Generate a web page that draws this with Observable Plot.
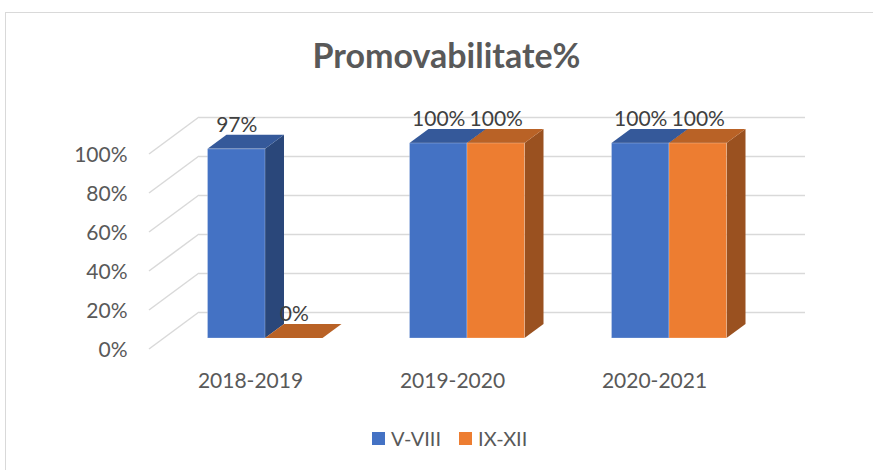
<!DOCTYPE html>
<html><head><meta charset="utf-8">
<script src="https://cdn.jsdelivr.net/npm/d3@7"></script>
<script src="https://cdn.jsdelivr.net/npm/@observablehq/plot@0.6"></script>
<style>
body{margin:0;background:#fff;font-family:Lato,sans-serif;}
#wrap{position:relative;width:873px;height:470px;overflow:hidden;background:#fff;}
#frame{position:absolute;left:5px;top:12px;width:900px;height:500px;border:1px solid #d9d9d9;box-sizing:border-box;}
#chart{position:absolute;left:0;top:0;}
#title{position:absolute;left:10px;width:873px;top:38px;text-align:center;font:bold 34px/34px Lato,sans-serif;color:#595959;white-space:nowrap;}
#legend{position:absolute;left:372px;top:428px;display:flex;align-items:center;font:20px/20px Lato,sans-serif;color:#595959;}
.sw{width:13px;height:13px;display:inline-block;margin-right:6px;}
.item{display:flex;align-items:center;margin-right:18px;}
</style></head>
<body>
<div id="wrap">
  <div id="frame"></div>
  <div id="chart"></div>
  <div id="title">Promovabilitate%</div>
  <div id="legend"></div>
</div>
<script>
// ---- data ----
const categories = ["2018-2019", "2019-2020", "2020-2021"];
const seriesNames = ["V-VIII", "IX-XII"];
const valuesVVIII = [0.97, 1.00, 1.00];
const valuesIXXII = [0.00, 1.00, 1.00];
const yTicks = [0, 0.2, 0.4, 0.6, 0.8, 1.0];

// ---- styles ----
const front = ["#4472C4", "#ED7D31"];
const topC = ["#35599A", "#B96226"];
const sideC = ["#2A477A", "#9A5120"];
const grid = "#d9d9d9";
const BAR = 0.2847;           // bar width in category units
const BDX = 19, BDY = -14;    // bar depth in px
const FDX = -15, FDY = 11;    // front floor plane offset
const WDX = 35, WDY = -26;    // back wall offset

const rows = [];
categories.forEach((c, i) => {
  [valuesVVIII, valuesIXXII].forEach((vals, s) => {
    rows.push({cat: c, i, s, series: seriesNames[s], value: vals[i]});
  });
});

function diagonals(index, scales) {
  const {x, y} = scales;
  const g = d3.create("svg:g").attr("stroke", grid).attr("stroke-width", 1.5).attr("fill", "none");
  const x0 = x(-0.5);
  for (const v of yTicks) {
    g.append("line")
      .attr("x1", x0 + FDX).attr("y1", y(v) + FDY)
      .attr("x2", x0 + WDX).attr("y2", y(v) + WDY);
  }
  return g.node();
}

function bars3d(index, scales) {
  const {x, y} = scales;
  const g = d3.create("svg:g");
  for (const d of rows) {
    const x1 = x(d.i + (d.s - 1) * BAR), x2 = x(d.i + d.s * BAR);
    const y0 = y(0), y1 = y(d.value);
    g.append("polygon")
      .attr("points", [[x2, y1], [x2 + BDX, y1 + BDY], [x2 + BDX, y0 + BDY], [x2, y0]].join(" "))
      .attr("fill", sideC[d.s]);
    g.append("polygon")
      .attr("points", [[x1, y1], [x1 + BDX, y1 + BDY], [x2 + BDX, y1 + BDY], [x2, y1]].join(" "))
      .attr("fill", topC[d.s]);
    if (y0 - y1 > 0) {
      g.append("rect")
        .attr("x", x1).attr("y", y1).attr("width", x2 - x1).attr("height", y0 - y1)
        .attr("fill", front[d.s]).attr("stroke", "#ffffff").attr("stroke-opacity", 0.25).attr("stroke-width", 1);
    }
  }
  return g.node();
}

const chart = Plot.plot({
  width: 873,
  height: 470,
  marginLeft: 164,
  marginRight: 103,
  marginTop: 143,
  marginBottom: 132,
  style: {fontFamily: "Lato, sans-serif", background: "transparent", overflow: "visible"},
  x: {type: "linear", domain: [-0.5, 2.5]},
  y: {type: "linear", domain: [0, 1]},
  marks: [
    Plot.ruleY(yTicks, {dx: WDX, dy: WDY, stroke: grid, strokeWidth: 1.5}),
    diagonals,
    bars3d,
    Plot.text(rows, {
      x: d => d.i + (d.s - 0.5) * BAR,
      y: "value",
      text: d => d3.format(".0%")(d.value),
      dy: -24,
      fontSize: 21,
      fill: "#404040"
    }),
    Plot.axisY({ticks: yTicks, tickFormat: d3.format(".0%"), tickSize: 0, tickPadding: 37, dy: 12, fontSize: 21, color: "#595959", label: null}),
    Plot.axisX({ticks: [0, 1, 2], tickFormat: i => categories[i], tickSize: 0, tickPadding: 35, dx: FDX, fontSize: 21, color: "#595959", label: null})
  ]
});
document.getElementById("chart").appendChild(chart);

const legend = document.getElementById("legend");
seriesNames.forEach((n, s) => {
  const it = document.createElement("span");
  it.className = "item";
  const sw = document.createElement("span");
  sw.className = "sw";
  sw.style.background = front[s];
  it.appendChild(sw);
  it.appendChild(document.createTextNode(n));
  legend.appendChild(it);
});
</script>
</body></html>
